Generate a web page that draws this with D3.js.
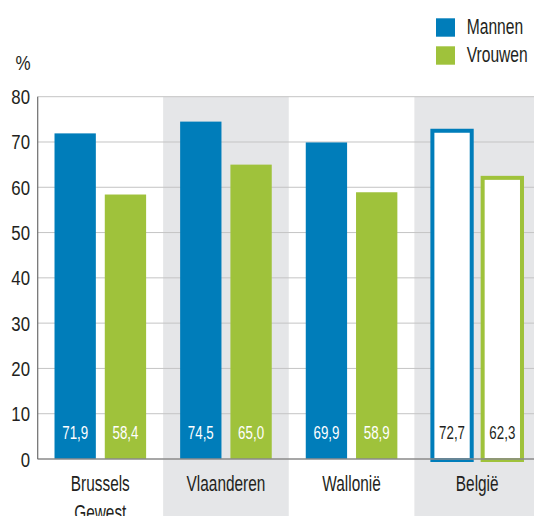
<!DOCTYPE html>
<html>
<head>
<meta charset="utf-8">
<script src="https://cdn.jsdelivr.net/npm/d3@7"></script>
<style>
  html, body { margin: 0; padding: 0; background: #fff; }
  svg text { font-family: "Liberation Sans", Arial, sans-serif; fill: #231f20; }
</style>
</head>
<body>
<svg id="chart" width="534" height="516"></svg>
<script>
const regions = ['Brussels Gewest', 'Vlaanderen', 'Wallonië', 'België'];
const series = ['Mannen', 'Vrouwen'];
const mannen = [71.9, 74.5, 69.9, 72.7];
const vrouwen = [58.4, 65.0, 58.9, 62.3];
const yTicks = [0, 10, 20, 30, 40, 50, 60, 70, 80];
const colors = { Mannen: '#007dba', Vrouwen: '#9fc23b' };

const svg = d3.select('#chart');
const width = 534;
const height = 516;

const x = d3.scaleBand().domain(regions).range([37.5, 540]).padding(0);
const inner = d3.scaleBand().domain(series).range([-45.8, 45.8]).paddingInner(0.178);
const y = d3.scaleLinear().domain([0, 80]).range([459, 96.7]);

// the reference font is a condensed face, so squeeze regular text horizontally
function narrowText(parent, tx, ty, str, size, sx, anchor) {
  return parent.append('text')
    .attr('transform', `translate(${tx},${ty}) scale(${sx},1)`)
    .attr('text-anchor', anchor || 'middle')
    .style('font-size', size + 'px')
    .text(str);
}

// grey bands behind every other region, down to the bottom edge
regions.forEach((r, i) => {
  if (i % 2 === 1) {
    svg.append('rect')
      .attr('x', x(r))
      .attr('y', y(80))
      .attr('width', i === regions.length - 1 ? width - x(r) : x.bandwidth())
      .attr('height', height - y(80))
      .attr('fill', '#e5e6e8');
  }
});

// gridlines
svg.append('g')
  .selectAll('line')
  .data(yTicks.filter((t) => t > 0))
  .join('line')
  .attr('x1', x.range()[0])
  .attr('x2', width)
  .attr('y1', (d) => y(d))
  .attr('y2', (d) => y(d))
  .attr('stroke', '#c4c4c4')
  .attr('stroke-width', 1);

// bars
const values = regions.map((r, i) => ({ region: r, Mannen: mannen[i], Vrouwen: vrouwen[i], last: i === regions.length - 1 }));

values.forEach((d) => {
  const cx = x(d.region) + x.bandwidth() / 2;
  series.forEach((s) => {
    const bx = cx + inner(s);
    const bw = inner.bandwidth();
    if (d.last) {
      svg.append('rect')
        .attr('x', bx + 1)
        .attr('y', y(d[s]) + 1)
        .attr('width', bw - 2)
        .attr('height', y(0) - y(d[s]))
        .attr('fill', '#fff')
        .attr('stroke', colors[s])
        .attr('stroke-width', 4);
    } else {
      svg.append('rect')
        .attr('x', bx)
        .attr('y', y(d[s]))
        .attr('width', bw)
        .attr('height', y(0) - y(d[s]))
        .attr('fill', colors[s]);
    }
    narrowText(svg, bx + bw / 2, 439, d3.format('.1f')(d[s]).replace('.', ','), 18.5, 0.72)
      .style('fill', d.last ? '#231f20' : '#fff');
  });
});

// axis lines
svg.append('line')
  .attr('x1', x.range()[0]).attr('x2', width)
  .attr('y1', y(0)).attr('y2', y(0))
  .attr('stroke', '#8a8a8a').attr('stroke-width', 1.5);
svg.append('line')
  .attr('x1', 37.7).attr('x2', 37.7)
  .attr('y1', y(80)).attr('y2', y(0))
  .attr('stroke', '#6d6d6d').attr('stroke-width', 1.2);

// y tick labels
yTicks.forEach((t) => narrowText(svg, 30, y(t) + 7.5, t, 21, 0.8, 'end'));

narrowText(svg, 23, 70, '%', 20, 0.85);

// category labels
regions.forEach((r) => {
  const cx = x(r) + x.bandwidth() / 2;
  r.split(' ').forEach((w, j) => narrowText(svg, cx, 491 + j * 29, w, 22, 0.7));
});

// legend
series.forEach((s, i) => {
  const ly = 18.3 + i * 28;
  svg.append('rect')
    .attr('x', 436)
    .attr('y', ly)
    .attr('width', 19)
    .attr('height', 18.4)
    .attr('fill', colors[s]);
  narrowText(svg, 466.7, ly + 15.7, s, 22, 0.71, 'start');
});
</script>
</body>
</html>
